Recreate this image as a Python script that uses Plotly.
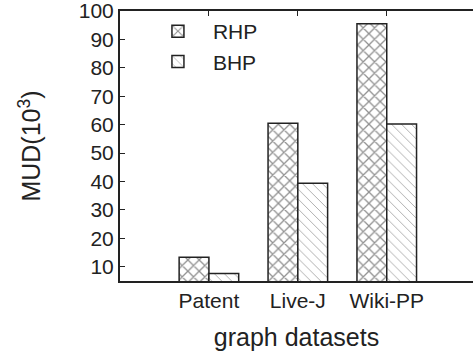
import plotly.graph_objects as go

categories = ["Patent", "Live-J", "Wiki-PP"]
positions = [1, 2, 3]
rhp = [13.4, 60.5, 95.5]
bhp = [7.6, 39.4, 60.2]
y_ticks = [10, 20, 30, 40, 50, 60, 70, 80, 90, 100]

font_family = "Liberation Sans, Arial, sans-serif"
ink = "#222222"

fig = go.Figure()
fig.add_trace(go.Bar(
    x=positions, y=rhp, name="RHP",
    marker=dict(color="white", line=dict(color=ink, width=1.5),
                pattern=dict(shape="x", fgcolor=ink, bgcolor="white", size=8, solidity=0.3)),
))
fig.add_trace(go.Bar(
    x=positions, y=bhp, name="BHP",
    marker=dict(color="white", line=dict(color=ink, width=1.5),
                pattern=dict(shape="\\", fgcolor="#444444", bgcolor="white", size=7, solidity=0.12)),
))

fig.update_layout(
    width=473, height=356,
    margin=dict(l=120, r=0, t=11, b=75),
    paper_bgcolor="white", plot_bgcolor="white",
    barmode="group", bargap=0.33, bargroupgap=0,
    font=dict(family=font_family, color=ink, size=21),
    showlegend=True,
    legend=dict(x=0.065, y=1.0, xanchor="left", yanchor="top",
                bgcolor="rgba(0,0,0,0)", font=dict(size=21), tracegroupgap=0,
                itemwidth=60),
    xaxis=dict(
        range=[0, 3.97], tickvals=positions, ticktext=categories,
        showline=True, linecolor=ink, linewidth=2, mirror="allticks",
        ticks="inside", ticklen=5, tickcolor=ink, tickwidth=1,
        showgrid=False, zeroline=False,
        tickfont=dict(size=21),
        title=dict(text="graph datasets", font=dict(size=25), standoff=17),
    ),
    yaxis=dict(
        range=[5, 100], tickvals=y_ticks,
        showline=True, linecolor=ink, linewidth=2, mirror=False,
        ticks="inside", ticklen=5, tickcolor=ink, tickwidth=1,
        showgrid=False, zeroline=False, ticklabeloverflow="allow",
        tickfont=dict(size=21),
        title=dict(text="MUD(10<sup>3</sup>)", font=dict(size=25), standoff=31),
    ),
)

fig.write_html("out.html")
